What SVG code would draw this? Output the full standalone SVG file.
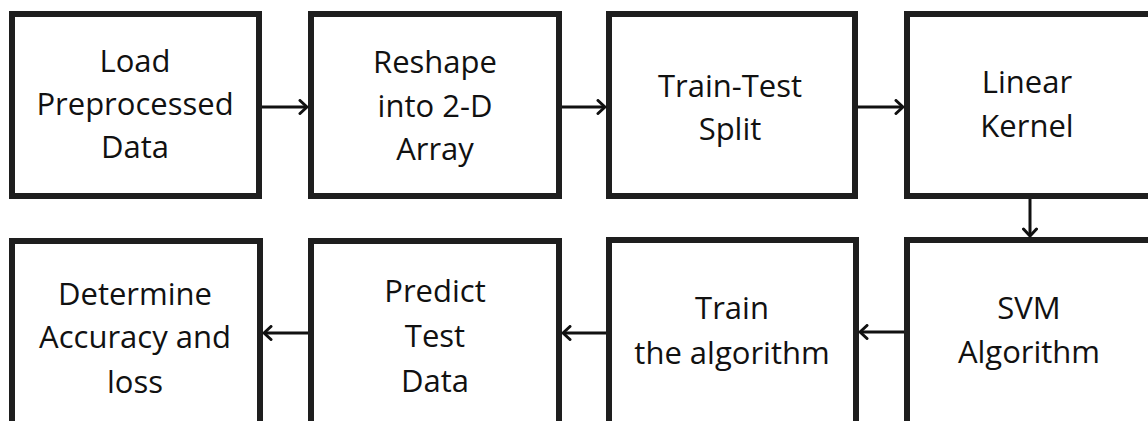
<svg xmlns="http://www.w3.org/2000/svg" width="1148" height="421" viewBox="0 0 1148 421">
<style>
.box{fill:#fff;stroke:#1e1e1e;stroke-width:6}
.t{font-family:"Open Sans","Liberation Sans",sans-serif;font-size:31px;fill:#111;text-anchor:middle}
.c{stroke:#111;stroke-width:3;fill:none}
</style>
<defs>
<marker id="ah" markerUnits="userSpaceOnUse" markerWidth="14" markerHeight="16" refX="10" refY="8" orient="auto" viewBox="0 0 14 16">
<path d="M3,1.5 L10,8 L3,14.5" fill="none" stroke="#111" stroke-width="3" stroke-linecap="round" stroke-linejoin="round"/>
</marker>
</defs>
<rect width="1148" height="421" fill="#fff"/>
<g id="n1"><rect class="box" x="12" y="14" width="247" height="182"/>
<text class="t" x="135" y="72">Load</text><text class="t" x="135" y="115">Preprocessed</text><text class="t" x="135" y="158">Data</text></g>
<g id="n2"><rect class="box" x="311" y="14" width="248" height="182"/>
<text class="t" x="435" y="73">Reshape</text><text class="t" x="435" y="117">into 2-D</text><text class="t" x="435" y="160">Array</text></g>
<g id="n3"><rect class="box" x="609" y="14" width="246" height="182"/>
<text class="t" x="730" y="97">Train-Test</text><text class="t" x="730" y="140">Split</text></g>
<g id="n4"><rect class="box" x="907" y="14" width="250" height="182"/>
<text class="t" x="1027" y="93">Linear</text><text class="t" x="1027" y="137">Kernel</text></g>
<g id="n5"><rect class="box" x="907" y="240" width="250" height="190"/>
<text class="t" x="1029" y="319">SVM</text><text class="t" x="1029" y="363">Algorithm</text></g>
<g id="n6"><rect class="box" x="609" y="240" width="247" height="190"/>
<text class="t" x="732" y="319">Train</text><text class="t" x="732" y="364">the algorithm</text></g>
<g id="n7"><rect class="box" x="311" y="241" width="248" height="190"/>
<text class="t" x="435" y="302">Predict</text><text class="t" x="435" y="347">Test</text><text class="t" x="435" y="392">Data</text></g>
<g id="n8"><rect class="box" x="12" y="241" width="248" height="190"/>
<text class="t" x="135" y="305">Determine</text><text class="t" x="135" y="348">Accuracy and</text><text class="t" x="135" y="393">loss</text></g>
<g id="connectors">
<line class="c" x1="262" y1="107" x2="307" y2="107" marker-end="url(#ah)"/>
<line class="c" x1="562" y1="107" x2="605" y2="107" marker-end="url(#ah)"/>
<line class="c" x1="858" y1="107" x2="903" y2="107" marker-end="url(#ah)"/>
<line class="c" x1="1030" y1="199" x2="1030" y2="236" marker-end="url(#ah)"/>
<line class="c" x1="904" y1="332" x2="860" y2="332" marker-end="url(#ah)"/>
<line class="c" x1="606" y1="333" x2="563" y2="333" marker-end="url(#ah)"/>
<line class="c" x1="308" y1="333" x2="264" y2="333" marker-end="url(#ah)"/>
</g>
</svg>
